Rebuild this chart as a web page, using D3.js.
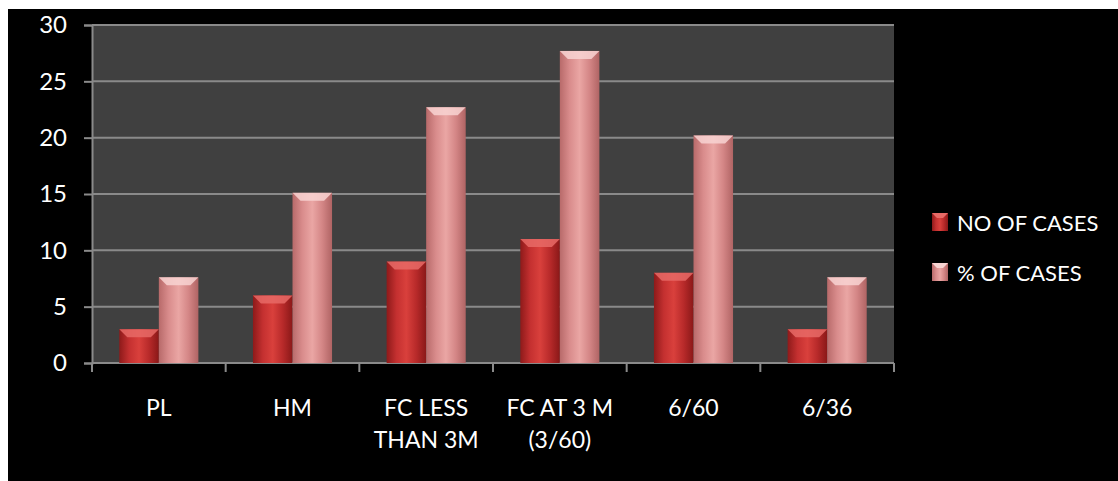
<!DOCTYPE html>
<html>
<head>
<meta charset="utf-8">
<script src="https://cdn.jsdelivr.net/npm/d3@7"></script>
<style>
  body { margin: 0; background: #fff; }
  text { font-family: Lato, "Open Sans", sans-serif; fill: #fff; }
</style>
</head>
<body>
<svg></svg>
<script>
var w = 1118;
var h = 481;

// data
var categories = ["PL", "HM", "FC LESS THAN 3M", "FC AT 3 M (3/60)", "6/60", "6/36"];
var tickLabels = [["PL"], ["HM"], ["FC LESS", "THAN 3M"], ["FC AT 3 M", "(3/60)"], ["6/60"], ["6/36"]];
var series = ["NO OF CASES", "% OF CASES"];
var noOfCases = [3, 6, 9, 11, 8, 3];
var pctOfCases = [7.6, 15.1, 22.7, 27.7, 20.2, 7.6];
var yTicks = [0, 5, 10, 15, 20, 25, 30];

var plot = {left: 92, right: 894, top: 25, bottom: 363};

var svg = d3.select("svg")
    .attr("width", w)
    .attr("height", h);

// gradients for the bars (cylinder look)
var defs = svg.append("defs");
var palettes = [
  {id: "g0", stops: ["#8e1a1a", "#c43030", "#d9403c", "#b82a2a", "#8a1818"], top: "#e86a66"},
  {id: "g1", stops: ["#b86a6a", "#d98c8c", "#eaa6a4", "#d48686", "#b06464"], top: "#f8d4d2"}
];
palettes.forEach(function(p) {
  var g = defs.append("linearGradient")
      .attr("id", p.id)
      .attr("x1", "0%").attr("x2", "100%")
      .attr("y1", "0%").attr("y2", "0%");
  p.stops.forEach(function(c, i) {
    g.append("stop")
        .attr("offset", (i / (p.stops.length - 1) * 100) + "%")
        .attr("stop-color", c);
  });
});

// black chart area
svg.append("rect")
    .attr("x", 8).attr("y", 9)
    .attr("width", w - 8).attr("height", h - 9)
    .attr("fill", "#000");

svg.append("rect")
    .attr("x", plot.left).attr("y", plot.top)
    .attr("width", plot.right - plot.left)
    .attr("height", plot.bottom - plot.top)
    .attr("fill", "#404040");

var yScale = d3.scaleLinear()
    .domain([0, 30])
    .range([plot.bottom, plot.top]);

var xScale = d3.scaleBand()
    .domain(categories)
    .range([plot.left, plot.right])
    .padding(0);

var x1 = d3.scaleBand()
    .domain(series)
    .range([0, xScale.bandwidth()])
    .paddingInner(0)
    .paddingOuter(0.69);

// gridlines
svg.append("g")
  .selectAll("line")
  .data(yTicks.slice(1))
  .join("line")
    .attr("x1", plot.left).attr("x2", plot.right)
    .attr("y1", function(d) { return yScale(d); })
    .attr("y2", function(d) { return yScale(d); })
    .attr("stroke", "#8a8a8a")
    .attr("stroke-width", 2);

// y axis
var yAxis = d3.axisLeft(yScale)
    .tickValues(yTicks)
    .tickSize(8)
    .tickPadding(17);
var gy = svg.append("g")
    .attr("transform", "translate(" + plot.left + ",0)")
    .call(yAxis);
gy.select(".domain").attr("stroke", "#8a8a8a").attr("stroke-width", 2);
gy.selectAll(".tick line").attr("stroke", "#8a8a8a").attr("stroke-width", 2);
gy.selectAll(".tick text")
    .style("font-size", "24px")
    .attr("fill", "#fff");

// x axis line and ticks at band edges
svg.append("line")
    .attr("x1", plot.left).attr("x2", plot.right)
    .attr("y1", plot.bottom).attr("y2", plot.bottom)
    .attr("stroke", "#8a8a8a").attr("stroke-width", 2);
var edges = categories.map(function(c) { return xScale(c); }).concat([plot.right]);
svg.append("g")
  .selectAll("line")
  .data(edges)
  .join("line")
    .attr("x1", function(d) { return d; })
    .attr("x2", function(d) { return d; })
    .attr("y1", plot.bottom)
    .attr("y2", plot.bottom + 9)
    .attr("stroke", "#8a8a8a")
    .attr("stroke-width", 2);

// category labels
var labels = svg.append("g")
  .selectAll("text")
  .data(categories)
  .join("text")
    .attr("x", function(d) { return xScale(d) + xScale.bandwidth() / 2; })
    .attr("y", 416)
    .attr("text-anchor", "middle")
    .style("font-size", "23px");
labels.each(function(d, i) {
  d3.select(this).selectAll("tspan")
    .data(tickLabels[i])
    .join("tspan")
      .attr("x", xScale(d) + xScale.bandwidth() / 2)
      .attr("dy", function(t, j) { return j === 0 ? 0 : 32; })
      .text(function(t) { return t; });
});

// bars
var values = [noOfCases, pctOfCases];
var bevel = 8;
series.forEach(function(s, si) {
  var g = svg.append("g");
  var data = categories.map(function(c, i) { return {cat: c, v: values[si][i]}; });
  g.selectAll("rect")
    .data(data)
    .join("rect")
      .attr("x", function(d) { return xScale(d.cat) + x1(s); })
      .attr("y", function(d) { return yScale(d.v); })
      .attr("width", x1.bandwidth())
      .attr("height", function(d) { return yScale(0) - yScale(d.v); })
      .attr("fill", "url(#" + palettes[si].id + ")");
  g.selectAll("path")
    .data(data)
    .join("path")
      .attr("d", function(d) {
        var x0 = xScale(d.cat) + x1(s), bw = x1.bandwidth(), y0 = yScale(d.v);
        return "M" + x0 + "," + y0 + "L" + (x0 + bw) + "," + y0 +
               "L" + (x0 + bw - bevel) + "," + (y0 + bevel) +
               "L" + (x0 + bevel) + "," + (y0 + bevel) + "Z";
      })
      .attr("fill", palettes[si].top)
      .attr("opacity", 0.85);
});

// legend
var legend = svg.append("g")
  .selectAll("g")
  .data(series)
  .join("g")
    .attr("transform", function(d, i) { return "translate(932," + (213 + i * 50) + ")"; });
legend.append("rect")
    .attr("width", 16).attr("height", 18)
    .attr("fill", function(d, i) { return "url(#" + palettes[i].id + ")"; });
legend.append("path")
    .attr("d", "M0,0L16,0L11,5L5,5Z")
    .attr("fill", function(d, i) { return palettes[i].top; });
legend.append("text")
    .attr("x", 25)
    .attr("y", 18)
    .style("font-size", "22px")
    .text(function(d) { return d; });
</script>
</body>
</html>
